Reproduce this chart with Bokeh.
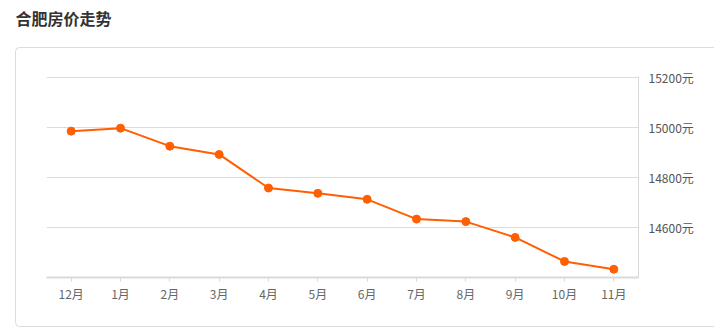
from urllib.parse import quote
from bokeh.plotting import figure
from bokeh.models import (FactorRange, Range1d, LinearAxis, CategoricalAxis, FixedTicker,
                          CustomJSTickFormatter, ColumnDataSource)
from bokeh.embed import file_html
from bokeh.resources import INLINE

title_text = "合肥房价走势"
months = ["12月", "1月", "2月", "3月", "4月", "5月", "6月", "7月", "8月", "9月", "10月", "11月"]
prices = [14984, 14996, 14924, 14891, 14757, 14736, 14712, 14633, 14623, 14560, 14464, 14433]
y_ticks = [14600, 14800, 15000, 15200]
unit = "元"

FONT = "Noto Sans CJK SC"
ORANGE = "#ff5f00"

p = figure(width=714, height=328, output_backend="svg", toolbar_location=None,
           x_range=FactorRange(*months, range_padding=0),
           y_range=Range1d(14400, 15202),
           min_border_left=46, min_border_right=76, min_border_top=76, min_border_bottom=51,
           y_axis_location=None)
p.outline_line_color = None
p.background_fill_color = None
p.border_fill_color = None

# card border drawn as page background behind the transparent canvas
card_svg = ("<svg xmlns='http://www.w3.org/2000/svg' width='714' height='328'>"
            "<rect x='15.5' y='47.5' width='740' height='279' rx='4' ry='4' "
            "fill='white' stroke='#dcdcdc' stroke-width='1'/></svg>")
p.styles = {"background-color": "white",
            "background-image": 'url("data:image/svg+xml,%s")' % quote(card_svg),
            "background-repeat": "no-repeat"}

# invisible spacer panel between the title and the plot frame
spacer = CategoricalAxis()
spacer.axis_line_color = None
spacer.major_tick_line_color = None
spacer.minor_tick_line_color = None
spacer.major_tick_out = 45
spacer.major_tick_in = 0
spacer.major_label_standoff = 0
spacer.major_label_text_font_size = "0px"
spacer.major_label_text_color = None
p.add_layout(spacer, "above")

# title
p.title.text = title_text
p.title.align = "left"
p.title.vertical_align = "top"
p.title.offset = -31
p.title.standoff = 0
p.title.text_font = FONT
p.title.text_font_size = "16px"
p.title.text_font_style = "bold"
p.title.text_color = "#333333"

src = ColumnDataSource(dict(m=months, v=prices))
p.line("m", "v", source=src, line_color=ORANGE, line_width=2)
p.scatter("m", "v", source=src, size=8, fill_color=ORANGE, line_color=ORANGE)

# bottom axis
xa = p.below[0]
xa.axis_line_color = "#d9d9d9"
xa.axis_line_width = 2
xa.major_tick_line_color = "#d9d9d9"
xa.major_tick_out = 4
xa.major_tick_in = 0
xa.minor_tick_line_color = None
xa.major_label_text_font = FONT
xa.major_label_text_font_size = "12px"
xa.major_label_text_color = "#666666"
xa.major_label_standoff = 3

# right axis
ra = LinearAxis(ticker=FixedTicker(ticks=y_ticks),
                formatter=CustomJSTickFormatter(code="return tick + '%s';" % unit))
ra.axis_line_color = "#d9d9d9"
ra.major_tick_line_color = None
ra.minor_tick_line_color = None
ra.major_label_text_font = FONT
ra.major_label_text_font_size = "12px"
ra.major_label_text_color = "#555555"
ra.major_label_standoff = 4
p.add_layout(ra, "right")

p.xgrid.grid_line_color = None
p.ygrid.ticker = FixedTicker(ticks=y_ticks)
p.ygrid.grid_line_color = "#dcdcdc"

open("out.html", "w").write(file_html(p, INLINE))
